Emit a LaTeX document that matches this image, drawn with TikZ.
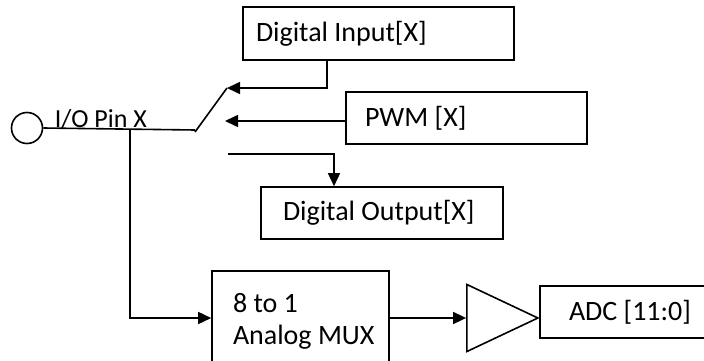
\documentclass[tikz,border=0pt]{standalone}
\usepackage{fontspec}
\setmainfont{Carlito}
\usetikzlibrary{arrows.meta,shapes.geometric}
\begin{document}
\begin{tikzpicture}[x=1pt,y=-1pt,
  every path/.style={line width=1.6pt},
  lbl/.style={font=\fontsize{26}{32}\selectfont},
  box/.style={draw, line width=1.6pt, rectangle, inner ysep=0pt, align=flush left,
    font=\fontsize{28}{32}\selectfont},
  arr/.style={-{Triangle[length=13pt,width=12pt]}},
  pinc/.style={draw, circle, line width=1.6pt, minimum size=31pt, inner sep=0pt}]
\useasboundingbox (0,0) rectangle (704,361);
% nodes
\node[pinc] (pin) at (27,128) {};
\node[lbl, anchor=base west, inner sep=0pt] (pinlbl) at (54,127) {I/O Pin X};
\node[box, minimum width=271pt, minimum height=53pt, inner xsep=13pt, text width=245pt] (din) at (378.5,33.5) {Digital Input[X]};
\node[box, minimum width=241pt, minimum height=52pt, inner xsep=19pt, text width=203pt] (pwm) at (466.5,118) {PWM [X]};
\node[box, minimum width=242pt, minimum height=52pt, inner xsep=22pt, text width=198pt] (dout) at (382,213) {Digital Output[X]};
\node[box, minimum width=177pt, minimum height=100pt, inner xsep=21pt, text width=135pt, yshift=-3pt] (mux) at (300.5,318) {8 to 1\\\mbox{Analog MUX}};
\node[draw, isosceles triangle, isosceles triangle stretches, shape border rotate=0,
  minimum width=67pt, minimum height=71pt, inner sep=0pt, line width=1.6pt, anchor=apex] (amp) at (540,318) {};
\node[box, minimum width=180pt, minimum height=52pt, inner xsep=29pt, text width=122pt] (adc) at (630,312) {ADC [11:0]};
% coordinates
\coordinate (swb) at (195,130);
\coordinate (swt) at (227,88);
\coordinate (j) at (130,130);
\coordinate (pwmend) at (225,121);
\coordinate (outstart) at (228,154);
% connectors
\draw (pin.east) -- (swb);
\draw (195,132) -- (swt);
\draw[arr] (din.south -| 327,0) |- (swt);
\draw[arr] (pwm.west |- pwmend) -- (pwmend);
\draw[arr] (outstart) -| (dout.north -| 334,0);
\draw[arr] (j) |- (mux.west |- 0,318);
\draw[arr] (mux.east |- 0,318) -- (amp.lower side);
\end{tikzpicture}
\end{document}
